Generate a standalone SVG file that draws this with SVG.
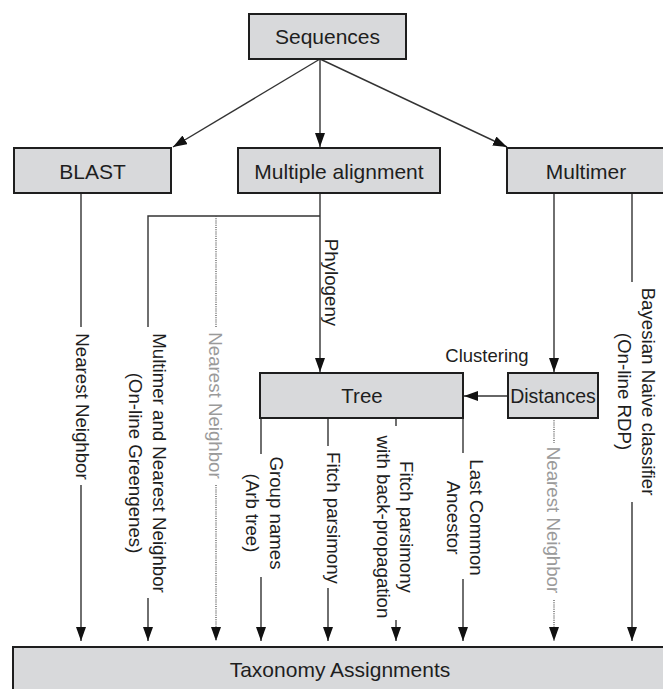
<svg xmlns="http://www.w3.org/2000/svg" width="663" height="689" viewBox="0 0 663 689">
<defs>
<style>
.box{fill:#d8d9db;stroke:#1e1e1e;stroke-width:2}
.t{font-family:"Liberation Sans",Arial,Helvetica,sans-serif;font-size:21px;fill:#1e1e1e;text-anchor:middle}
.v{font-family:"Liberation Sans",Arial,Helvetica,sans-serif;font-size:18.7px;fill:#1e1e1e;text-anchor:middle}
.g{fill:#9a9a9a}
.c{stroke:#333;stroke-width:1.4;fill:none}
.d{stroke:#555;stroke-width:1.3;fill:none;stroke-dasharray:1 1.2}
</style>
<marker id="ah" viewBox="0 0 14 10" refX="14" refY="5" markerWidth="14" markerHeight="10" markerUnits="userSpaceOnUse" orient="auto">
<path d="M0,0 L14,5 L0,10 z" fill="#111"/>
</marker>
</defs>
<rect width="663" height="689" fill="#fff"/>

<g id="connectors">
<line class="c" x1="320" y1="59" x2="173" y2="147" marker-end="url(#ah)"/>
<line class="c" x1="320" y1="59" x2="320" y2="147" marker-end="url(#ah)"/>
<line class="c" x1="320" y1="59" x2="507" y2="147" marker-end="url(#ah)"/>
<line class="c" x1="81" y1="193" x2="81" y2="327"/>
<line class="c" x1="81" y1="485" x2="81" y2="641" marker-end="url(#ah)"/>
<line class="c" x1="320" y1="193" x2="320" y2="372" marker-end="url(#ah)"/>
<polyline class="c" points="148,327 148,216 320,216"/>
<line class="c" x1="148" y1="598" x2="148" y2="641" marker-end="url(#ah)"/>
<line class="d" x1="216" y1="216" x2="216" y2="327"/>
<line class="d" x1="216" y1="485" x2="216" y2="641" marker-end="url(#ah)"/>
<line class="c" x1="554" y1="193" x2="554" y2="372" marker-end="url(#ah)"/>
<line class="c" x1="632" y1="193" x2="632" y2="282"/>
<line class="c" x1="632" y1="502" x2="632" y2="641" marker-end="url(#ah)"/>
<line class="c" x1="508" y1="396" x2="464" y2="396" marker-end="url(#ah)"/>
<line class="d" x1="554" y1="418" x2="554" y2="443"/>
<line class="d" x1="554" y1="600" x2="554" y2="641" marker-end="url(#ah)"/>
<line class="c" x1="261" y1="418" x2="261" y2="454"/>
<line class="c" x1="261" y1="577" x2="261" y2="641" marker-end="url(#ah)"/>
<line class="c" x1="328" y1="418" x2="328" y2="446"/>
<line class="c" x1="328" y1="588" x2="328" y2="641" marker-end="url(#ah)"/>
<line class="c" x1="396" y1="418" x2="396" y2="426"/>
<line class="c" x1="396" y1="620" x2="396" y2="641" marker-end="url(#ah)"/>
<line class="c" x1="463" y1="418" x2="463" y2="453"/>
<line class="c" x1="463" y1="579" x2="463" y2="641" marker-end="url(#ah)"/>
</g>

<g id="labels">
<text class="v" transform="translate(325,282.5) rotate(90)">Phylogeny</text>
<text class="v" transform="translate(76,406.5) rotate(90)">Nearest Neighbor</text>
<text class="v" transform="translate(153,463) rotate(90)">Multimer and Nearest Neighbor</text>
<text class="v" transform="translate(129,463) rotate(90)">(On-line Greengenes)</text>
<text class="v g" transform="translate(209,405.5) rotate(90)">Nearest Neighbor</text>
<text class="v" transform="translate(642,391.5) rotate(90)">Bayesian Naive classifier</text>
<text class="v" transform="translate(618,391.5) rotate(90)">(On-line RDP)</text>
<text class="v" x="487" y="362" style="font-size:18.5px">Clustering</text>
<text class="v" transform="translate(270,513) rotate(90)">Group names</text>
<text class="v" transform="translate(246,513) rotate(90)">(Arb tree)</text>
<text class="v" transform="translate(327,518) rotate(90)">Fitch parsimony</text>
<text class="v" transform="translate(400,527) rotate(90)">Fitch parsimony</text>
<text class="v" transform="translate(377,527) rotate(90)">with back-propagation</text>
<text class="v" transform="translate(470,517.5) rotate(90)">Last Common</text>
<text class="v" transform="translate(447,517.5) rotate(90)">Ancestor</text>
<text class="v g" transform="translate(547,520) rotate(90)">Nearest Neighbor</text>
</g>

<g id="sequences">
<rect class="box" x="249" y="14" width="157" height="45"/>
<text class="t" x="327.5" y="44">Sequences</text>
</g>
<g id="blast">
<rect class="box" x="14" y="148" width="157" height="45"/>
<text class="t" x="92.5" y="179">BLAST</text>
</g>
<g id="multiple-alignment">
<rect class="box" x="238" y="148" width="202" height="45"/>
<text class="t" x="339" y="179">Multiple alignment</text>
</g>
<g id="multimer">
<rect class="box" x="507" y="148" width="170" height="45"/>
<text class="t" x="586" y="179">Multimer</text>
</g>
<g id="tree">
<rect class="box" x="260" y="373" width="203" height="45"/>
<text class="t" x="362" y="403" style="font-size:20.5px">Tree</text>
</g>
<g id="distances">
<rect class="box" x="508" y="373" width="90" height="45"/>
<text class="t" x="553" y="403" style="font-size:19.5px">Distances</text>
</g>
<g id="taxonomy-assignments">
<rect class="box" x="13" y="647" width="662" height="55"/>
<text class="t" x="340" y="677">Taxonomy Assignments</text>
</g>
</svg>
